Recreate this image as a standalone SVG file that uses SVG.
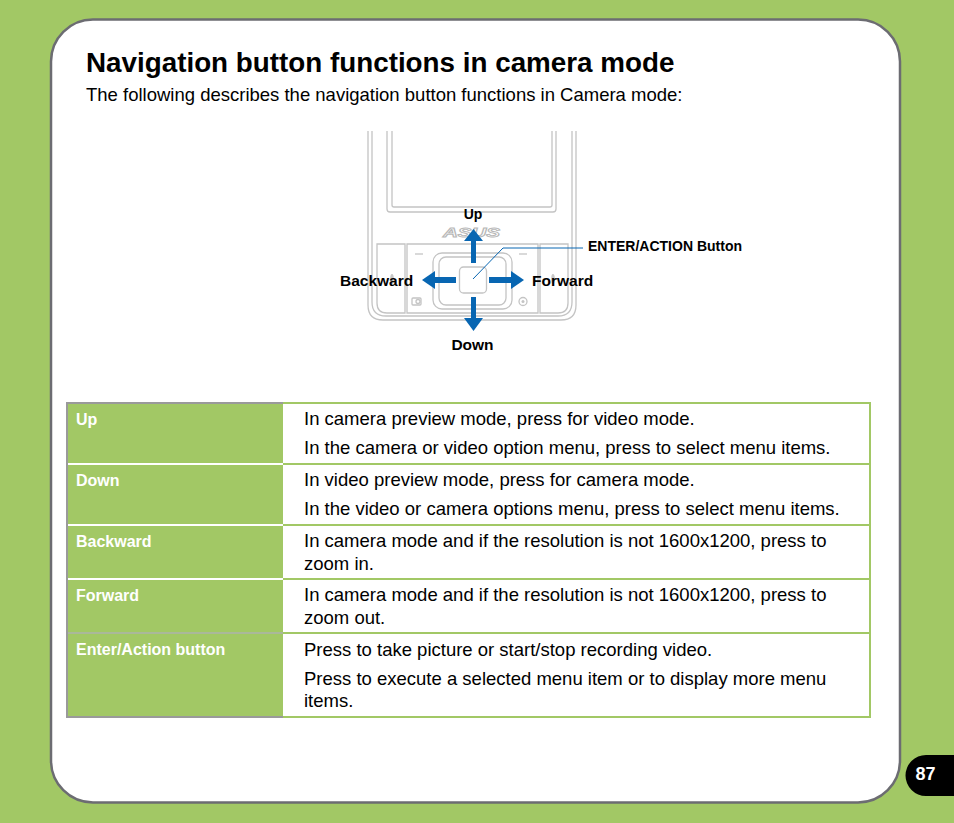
<svg xmlns="http://www.w3.org/2000/svg" width="954" height="823" viewBox="0 0 954 823">
<style>
.t{font-family:"Liberation Sans",Arial,sans-serif;fill:#000}
.b{font-weight:bold}
.ph{fill:none;stroke:#c4c4c4;stroke-width:1.3}
.arr{fill:#0866b2}
.lbl{font-family:"Liberation Sans",Arial,sans-serif;font-weight:bold;font-size:16px;fill:#fff}
.cell{font-family:"Liberation Sans",Arial,sans-serif;font-size:18.5px;fill:#000}
.gl{stroke:#a2c865;stroke-width:2}
.wl{stroke:#fff;stroke-width:2}
</style>
<rect width="954" height="823" fill="#a2c865"/>
<g id="panel">
<rect x="51" y="19.5" width="849" height="783" rx="42" ry="42" fill="#fff" stroke="#6c6c72" stroke-width="2.5"/>
</g>
<g id="title">
<text class="t b" x="86" y="72" font-size="27.8">Navigation button functions in camera mode</text>
<text class="t" x="86" y="101" font-size="18.5">The following describes the navigation button functions in Camera mode:</text>
</g>
<g id="phone">
<path class="ph" d="M368 131 V305 Q368 320 383 320 H561 Q576 320 576 305 V131"/>
<path class="ph" d="M372 131 V302 Q372 316 386 316 H558 Q572 316 572 302 V131"/>
<path class="ph" d="M387 131 V209 Q387 212 390 212 H553 Q556 212 556 209 V131"/>
<path class="ph" d="M392 131 V205 Q392 207 394 207 H550 Q552 207 552 205 V131"/>
<text x="443" y="237" textLength="57" lengthAdjust="spacingAndGlyphs" font-family="Liberation Sans,Arial,sans-serif" font-size="13" font-weight="bold" font-style="italic" fill="none" stroke="#b8b8b8" stroke-width="0.9">ASUS</text>
<path class="ph" d="M377 244 H405 V313 H387 Q377 313 377 303 Z"/>
<path class="ph" d="M540 244 H568 V303 Q568 313 558 313 H540 Z"/>
<path class="ph" d="M407 244 H538 V313 H407 Z"/>
<rect class="ph" x="433" y="253" width="79" height="56" rx="9"/>
<rect class="ph" x="439" y="257" width="67" height="48" rx="7"/>
<rect class="ph" x="459.5" y="267" width="27" height="26" rx="4" stroke="#bdbdbd"/>
<line class="ph" x1="415" y1="254" x2="423" y2="254"/>
<line class="ph" x1="519" y1="254" x2="527" y2="254"/>
<ellipse cx="392" cy="279" rx="1.8" ry="5" fill="#c8c8c8"/>
<ellipse cx="553" cy="279" rx="1.8" ry="5" fill="#c8c8c8"/>
<rect class="ph" x="412" y="298" width="9" height="7" rx="1"/>
<circle class="ph" cx="418" cy="301.5" r="2"/>
<circle class="ph" cx="523" cy="301.5" r="4"/>
<circle cx="523" cy="301.5" r="1.5" fill="#c4c4c4"/>
</g>
<g id="connectors">
<rect class="arr" x="471" y="240" width="5" height="23"/>
<polygon class="arr" points="464,241 473.5,229 483,241"/>
<rect class="arr" x="471" y="297" width="5" height="22"/>
<polygon class="arr" points="464,318 473.5,331 483,318"/>
<rect class="arr" x="434" y="277" width="22" height="6"/>
<polygon class="arr" points="435,271 422,280 435,289"/>
<rect class="arr" x="489" y="277" width="23" height="6"/>
<polygon class="arr" points="511,271 524,280 511,289"/>
<polyline points="473,279 503,248 583,248" fill="none" stroke="#0866b2" stroke-width="1"/>
</g>
<g id="phone-labels">
<text class="t b" x="473" y="219" font-size="14" text-anchor="middle">Up</text>
<text class="t b" x="340" y="286" font-size="15.5">Backward</text>
<text class="t b" x="532" y="286" font-size="15.5">Forward</text>
<text class="t b" x="472.5" y="350" font-size="15.5" text-anchor="middle">Down</text>
<text class="t b" x="588" y="251" font-size="14">ENTER/ACTION Button</text>
</g>
<g id="table">
<rect x="66" y="403" width="217" height="314" fill="#a2c865"/>
<line class="gl" x1="283" y1="403" x2="871" y2="403"/>
<line class="gl" x1="870" y1="403" x2="870" y2="718"/>
<line class="gl" x1="283" y1="717" x2="871" y2="717"/>
<line class="gl" x1="283" y1="464" x2="870" y2="464"/>
<line class="gl" x1="283" y1="525" x2="870" y2="525"/>
<line class="gl" x1="283" y1="579" x2="870" y2="579"/>
<line class="gl" x1="283" y1="633" x2="870" y2="633"/>
<line class="wl" x1="67" y1="464" x2="283" y2="464"/>
<line class="wl" x1="67" y1="525" x2="283" y2="525"/>
<line class="wl" x1="67" y1="579" x2="283" y2="579"/>
<line x1="67" y1="633" x2="283" y2="633" stroke="#aab89a" stroke-width="2"/>
<path d="M283 403 H67 V717 H283" fill="none" stroke="#9a9a9a" stroke-width="2"/>
<g id="row-up">
<text class="lbl" x="76" y="425">Up</text>
<text class="cell" x="304" y="425">In camera preview mode, press for video mode.</text>
<text class="cell" x="304" y="454">In the camera or video option menu, press to select menu items.</text>
</g>
<g id="row-down">
<text class="lbl" x="76" y="486">Down</text>
<text class="cell" x="304" y="486">In video preview mode, press for camera mode.</text>
<text class="cell" x="304" y="515">In the video or camera options menu, press to select menu items.</text>
</g>
<g id="row-backward">
<text class="lbl" x="76" y="547">Backward</text>
<text class="cell" x="304" y="547">In camera mode and if the resolution is not 1600x1200, press to</text>
<text class="cell" x="304" y="570">zoom in.</text>
</g>
<g id="row-forward">
<text class="lbl" x="76" y="601">Forward</text>
<text class="cell" x="304" y="601">In camera mode and if the resolution is not 1600x1200, press to</text>
<text class="cell" x="304" y="624">zoom out.</text>
</g>
<g id="row-enter">
<text class="lbl" x="76" y="655">Enter/Action button</text>
<text class="cell" x="304" y="656">Press to take picture or start/stop recording video.</text>
<text class="cell" x="304" y="685">Press to execute a selected menu item or to display more menu</text>
<text class="cell" x="304" y="707">items.</text>
</g>
</g>
<g id="page-number">
<path d="M926 755 H954 V796 H926 A20.5 20.5 0 0 1 926 755 Z" fill="#000"/>
<text x="925.5" y="780" text-anchor="middle" font-family="Liberation Sans,Arial,sans-serif" font-weight="bold" font-size="18" fill="#fff">87</text>
</g>
</svg>
